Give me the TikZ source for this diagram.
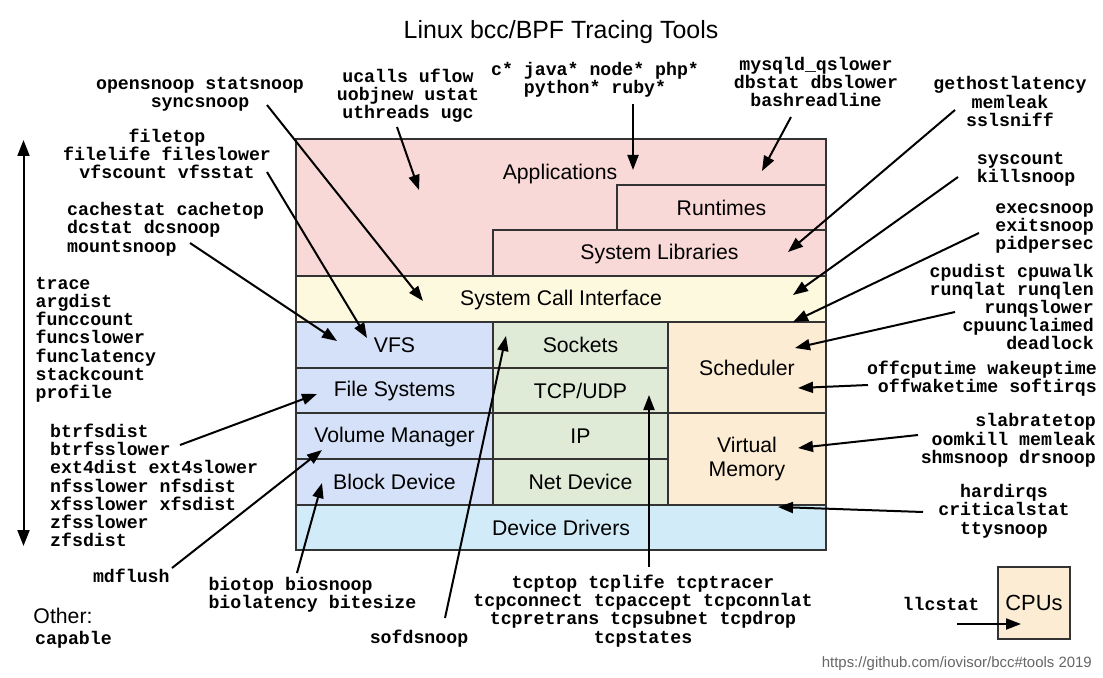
\documentclass[tikz,border=0pt]{standalone}
\usepackage{fontspec}
\setmainfont{Liberation Sans}
\newfontfamily\monofont{Liberation Mono}
\usetikzlibrary{arrows.meta}
\definecolor{cPink}{HTML}{F9D9D7}
\definecolor{cYellow}{HTML}{FCF9DE}
\definecolor{cBlue}{HTML}{D5E1F8}
\definecolor{cGreen}{HTML}{DFEAD7}
\definecolor{cPeach}{HTML}{FCECD3}
\definecolor{cCyan}{HTML}{D1ECF8}
\definecolor{cBorder}{HTML}{333333}
\definecolor{cFoot}{HTML}{666666}
\newcommand\boxstrut{\rule[-2.1bp]{0pt}{19.4bp}}
\tikzset{
  struts/.style={execute at begin node=\strut, execute at end node=\strut},
  bstruts/.style={execute at begin node=\boxstrut, execute at end node=\boxstrut},
  mono/.style={font=\monofont\bfseries\fontsize{18.3}{18.3}\selectfont, inner sep=0pt, struts},
  sans/.style={font=\fontsize{21.3}{24}\selectfont, inner sep=0pt, bstruts},
  box/.style={draw=cBorder, line width=1.4bp, inner sep=0pt, outer sep=0pt, font=\fontsize{21.3}{24}\selectfont, align=center, bstruts},
  arr/.style={line width=2bp, -{Triangle[length=15bp,width=11bp]}},
}
\begin{document}
\begin{tikzpicture}[x=1bp,y=-1bp]
\useasboundingbox[fill=white] (0,0) rectangle (1103,678);

% title
\node[font=\fontsize{25}{30}\selectfont, inner sep=0pt, struts] (title) at (561,33) {Linux bcc/BPF Tracing Tools};

% stack boxes
\node[box, fill=cPink, minimum width=530bp, minimum height=137bp] (apps) at (561,207.5) {};
\node[box, fill=cPink, minimum width=209bp, minimum height=45bp] (runtimes) at (721.5,207.5) {Runtimes};
\node[box, fill=cPink, minimum width=333bp, minimum height=46bp] (syslibs) at (659.5,253) {System Libraries};
\node[sans] (appstext) at (560,173) {Applications};
\node[box, fill=cYellow, minimum width=530bp, minimum height=46bp] (sci) at (561,299) {System Call Interface};
\node[box, fill=cBlue, minimum width=197bp, minimum height=46bp] (vfs) at (394.5,345) {VFS};
\node[box, fill=cBlue, minimum width=197bp, minimum height=45bp] (fs) at (394.5,390.5) {File Systems};
\node[box, fill=cBlue, minimum width=197bp, minimum height=46bp] (volmgr) at (394.5,436) {Volume Manager};
\node[box, fill=cBlue, minimum width=197bp, minimum height=46bp] (blockdev) at (394.5,482) {Block Device};
\node[box, fill=cGreen, minimum width=175bp, minimum height=46bp] (sockets) at (580.5,345) {Sockets};
\node[box, fill=cGreen, minimum width=175bp, minimum height=45bp] (tcpudp) at (580.5,390.5) {TCP/UDP};
\node[box, fill=cGreen, minimum width=175bp, minimum height=46bp] (ip) at (580.5,436) {IP};
\node[box, fill=cGreen, minimum width=175bp, minimum height=46bp] (netdev) at (580.5,482) {Net Device};
\node[box, fill=cPeach, minimum width=158bp, minimum height=91bp] (sched) at (747,367.5) {Scheduler};
\node[box, fill=cPeach, minimum width=158bp, minimum height=92bp] (virtmem) at (747,459) {Virtual\\Memory};
\node[box, fill=cCyan, minimum width=530bp, minimum height=45bp] (devdrv) at (561,527.5) {Device Drivers};
\node[box, fill=cPeach, minimum width=72bp, minimum height=72bp, font=\fontsize{22}{26}\selectfont] (cpus) at (1034,603) {CPUs};

% tool texts
\node[mono, align=center] (open) at (200,95.3) {opensnoop statsnoop\\syncsnoop};
\node[mono, align=center] (ucalls) at (408,96.3) {ucalls uflow\\uobjnew ustat\\uthreads ugc};
\node[mono, align=center] (cstar) at (595,80.3) {c* java* node* php*\\python* ruby*};
\node[mono, align=center] (mysqld) at (816,84.6) {mysqld\_qslower\\dbstat dbslower\\bashreadline};
\node[mono, align=center] (gethost) at (1010,104.2) {gethostlatency\\memleak\\sslsniff};
\node[mono, align=center] (filetop) at (167,156.3) {filetop\\filelife fileslower\\vfscount vfsstat};
\node[mono, align=left, anchor=west] (cachestat) at (67,230.1) {cachestat cachetop\\dcstat dcsnoop\\mountsnoop};
\node[mono, align=left, anchor=west] (trace) at (35.5,340.5) {trace\\argdist\\funccount\\funcslower\\funclatency\\stackcount\\profile};
\node[mono, align=left, anchor=west] (syscount) at (976.7,170.5) {syscount\\killsnoop};
\node[mono, align=right, anchor=east] (execsnoop) at (1094,229.4) {execsnoop\\exitsnoop\\pidpersec};
\node[mono, align=right, anchor=east] (cpudist) at (1094,309.6) {cpudist cpuwalk\\runqlat runqlen\\runqslower\\cpuunclaimed\\deadlock};
\node[mono, align=right, anchor=east] (offcpu) at (1097,379.6) {offcputime wakeuptime\\offwaketime softirqs};
\node[mono, align=right, anchor=east] (slab) at (1096,441.3) {slabratetop\\oomkill memleak\\shmsnoop drsnoop};
\node[mono, align=center] (hardirqs) at (1004,512.1) {hardirqs\\criticalstat\\ttysnoop};
\node[mono, align=left, anchor=west] (btrfs) at (50,488) {btrfsdist\\btrfsslower\\ext4dist ext4slower\\nfsslower nfsdist\\xfsslower xfsdist\\zfsslower\\zfsdist};
\node[mono] (mdflush) at (131.3,578) {mdflush};
\node[mono, align=left, anchor=west] (biotop) at (208.3,595.5) {biotop biosnoop\\biolatency bitesize};
\node[mono] (sofd) at (419,639) {sofdsnoop};
\node[mono, align=center] (tcp) at (643,611.8) {tcptop tcplife tcptracer\\tcpconnect tcpaccept tcpconnlat\\tcpretrans tcpsubnet tcpdrop\\tcpstates};
\node[sans, anchor=west] (other) at (33.3,616) {Other:};
\node[mono, anchor=west] (capable) at (35,640.6) {capable};
\node[mono] (llcstat) at (941,606.3) {llcstat};
\node[font=\fontsize{15}{18}\selectfont, text=cFoot, inner sep=0pt, struts, anchor=east] (foot) at (1092,663.8) {https://github.com/iovisor/bcc\#tools 2019};

% connector end points
\coordinate (sOpen) at (267,105);   \coordinate (tOpen) at (423,301);
\coordinate (sUcalls) at (397,127); \coordinate (tUcalls) at (419,190);
\coordinate (sCstar) at (633,104);  \coordinate (tCstar) at (633,170);
\coordinate (sMysqld) at (791,117); \coordinate (tMysqld) at (762,171);
\coordinate (sGethost) at (955,110);\coordinate (tGethost) at (788,252);
\coordinate (sFiletop) at (267,172);\coordinate (tFiletop) at (367,338);
\coordinate (sCache) at (190,243);  \coordinate (tCache) at (337,341);
\coordinate (sSyscount) at (958,177);\coordinate (tSyscount) at (793,295);
\coordinate (sExec) at (979,233);   \coordinate (tExec) at (793,322);
\coordinate (sCpudist) at (955,312);\coordinate (tCpudist) at (795,348);
\coordinate (sOffcpu) at (868,385); \coordinate (tOffcpu) at (798,388);
\coordinate (sSlab) at (918,435);   \coordinate (tSlab) at (798,448);
\coordinate (sHard) at (923,512);   \coordinate (tHard) at (778,507);
\coordinate (sBtrfs) at (180,445);  \coordinate (tBtrfs) at (317,394);
\coordinate (sMdflush) at (172,568);\coordinate (tMdflush) at (322,450);
\coordinate (sBiotop) at (297,573); \coordinate (tBiotop) at (322,483);
\coordinate (sSofd) at (445,618);   \coordinate (tSofd) at (506,336);
\coordinate (sTcp) at (649,567);    \coordinate (tTcp) at (649,395);
\coordinate (sLlc) at (957,624);    \coordinate (tLlc) at (1021,624);
\coordinate (stackTop) at (23.5,140); \coordinate (stackBot) at (23.5,546);

% connectors
\draw[arr] (sOpen) -- (tOpen);
\draw[arr] (sUcalls) -- (tUcalls);
\draw[arr] (sCstar) -- (tCstar);
\draw[arr] (sMysqld) -- (tMysqld);
\draw[arr] (sGethost) -- (tGethost);
\draw[arr] (sFiletop) -- (tFiletop);
\draw[arr] (sCache) -- (tCache);
\draw[arr] (sSyscount) -- (tSyscount);
\draw[arr] (sExec) -- (tExec);
\draw[arr] (sCpudist) -- (tCpudist);
\draw[arr] (sOffcpu) -- (tOffcpu);
\draw[arr] (sSlab) -- (tSlab);
\draw[arr] (sHard) -- (tHard);
\draw[arr] (sBtrfs) -- (tBtrfs);
\draw[arr] (sMdflush) -- (tMdflush);
\draw[arr] (sBiotop) -- (tBiotop);
\draw[arr] (sSofd) -- (tSofd);
\draw[arr] (sTcp) -- (tTcp);
\draw[arr] (sLlc) -- (tLlc);
\draw[line width=2bp, {Triangle[length=16bp,width=12bp]}-{Triangle[length=16bp,width=12bp]}] (stackTop) -- (stackBot);
\end{tikzpicture}
\end{document}
